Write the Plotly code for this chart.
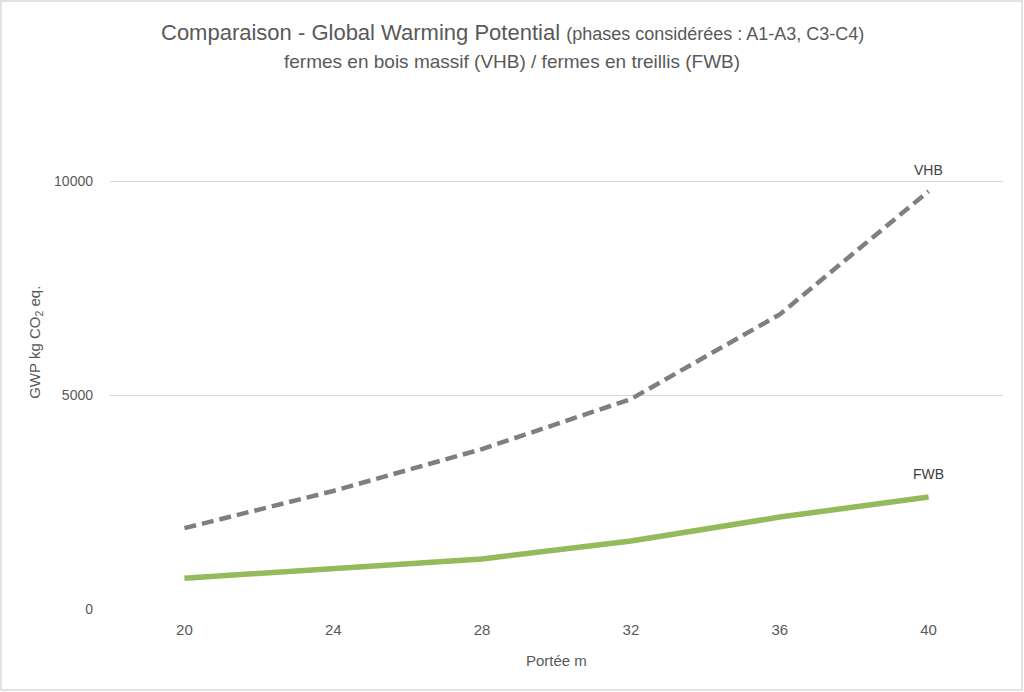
import plotly.graph_objects as go

portee = [20, 24, 28, 32, 36, 40]
vhb = [1890, 2760, 3740, 4910, 6890, 9770]
fwb = [720, 930, 1170, 1590, 2150, 2620]
y_ticks = [0, 5000, 10000]
x_ticks = [20, 24, 28, 32, 36, 40]

SANS = "Liberation Sans, Arial, sans-serif"
TXT = "#595959"

fig = go.Figure()
fig.add_trace(go.Scatter(x=portee, y=vhb, mode="lines", name="VHB",
                         line=dict(color="#7F7F7F", width=4.5, dash="12px,6px")))
fig.add_trace(go.Scatter(x=portee, y=fwb, mode="lines", name="FWB",
                         line=dict(color="#93BB5B", width=5.5)))

fig.add_annotation(x=portee[-1], y=10257, text="VHB", showarrow=False,
                   xanchor="center", yanchor="middle",
                   font=dict(family=SANS, size=14, color="#404040"))
fig.add_annotation(x=portee[-1], y=3154, text="FWB", showarrow=False,
                   xanchor="center", yanchor="middle",
                   font=dict(family=SANS, size=14, color="#404040"))
fig.add_annotation(xref="paper", yref="paper", x=-0.0829, y=0.595,
                   xanchor="center", yanchor="middle",
                   text="GWP kg CO<sub>2</sub> eq.", textangle=-90, showarrow=False,
                   font=dict(family=SANS, size=15, color=TXT))
fig.add_annotation(xref="paper", yref="paper", x=0.5, y=-0.1136,
                   xanchor="center", yanchor="middle",
                   text="Portée m", showarrow=False,
                   font=dict(family=SANS, size=15, color=TXT))
# title lines
fig.add_annotation(xref="paper", yref="paper", x=0.4502, y=1.285,
                   xanchor="center", yanchor="middle", showarrow=False,
                   text="Comparaison - Global Warming Potential "
                        "<span style='font-size:18px'>(phases considérées : A1-A3, C3-C4)</span>",
                   font=dict(family=SANS, size=22, color=TXT))
fig.add_annotation(xref="paper", yref="paper", x=0.4502, y=1.22,
                   xanchor="center", yanchor="middle", showarrow=False,
                   text="fermes en bois massif (VHB) / fermes en treillis (FWB)",
                   font=dict(family=SANS, size=19, color=TXT))

fig.add_shape(type="rect", xref="paper", yref="paper",
              x0=-0.1221, x1=1.0213, y0=-0.1804, y1=1.354,
              line=dict(color="#D9D9D9", width=1.5), layer="below")

fig.update_layout(
    width=1024, height=692,
    margin=dict(l=110, r=21, t=160, b=83),
    paper_bgcolor="white", plot_bgcolor="white",
    showlegend=False,
    xaxis=dict(range=[18, 42], tickvals=x_ticks, showgrid=False, zeroline=False,
               showline=False, ticks="", ticklabelstandoff=10,
               tickfont=dict(family=SANS, size=15, color=TXT)),
    yaxis=dict(range=[0, 10500], tickvals=y_ticks, tickformat="d",
               showgrid=True, gridcolor="#D9D9D9",
               gridwidth=1, zeroline=False, showline=False, ticks="",
               ticklabelstandoff=16,
               tickfont=dict(family=SANS, size=14, color=TXT)),
)

fig.write_html("out.html", config={"displayModeBar": False},
               post_script="document.body.style.margin='0';")
